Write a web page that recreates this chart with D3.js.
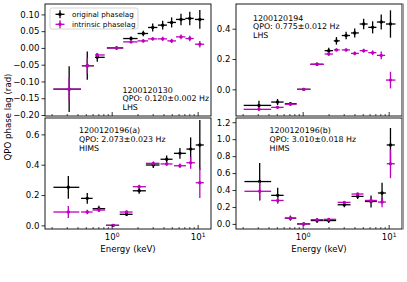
<!DOCTYPE html>
<html>
<head>
<meta charset="utf-8">
<script src="https://cdn.jsdelivr.net/npm/d3@7"></script>
<style>
  body { margin: 0; background: #fff; }
  svg { font-family: "DejaVu Sans", sans-serif; }
</style>
</head>
<body>
<svg id="chart" width="407" height="282"></svg>
<script>
// ---- data: 1200120130 (LHS) ----
var tlEnergy = [0.32, 0.52, 0.68, 1.14, 1.68, 2.33, 3.0, 3.92, 4.98, 6.4, 8.1, 10.6];
var tlELo    = [0.21, 0.45, 0.64, 0.88, 1.36, 2.0, 2.65, 3.45, 4.45, 5.6, 7.2, 9.3];
var tlEHi    = [0.44, 0.62, 0.83, 1.36, 2.0, 2.65, 3.4, 4.4, 5.6, 7.2, 9.0, 11.9];
var tlOrig    = [-0.123, -0.053, -0.028, 0, 0.028, 0.043, 0.061, 0.068, 0.076, 0.085, 0.088, 0.085];
var tlOrigErr = [0.068, 0.042, 0.013, 0, 0.006, 0.008, 0.012, 0.013, 0.015, 0.017, 0.02, 0.028];
var tlIntr    = [-0.123, -0.053, -0.021, 0, 0.018, 0.021, 0.027, 0.027, 0.021, 0.033, 0.028, 0.011];
var tlIntrErr = [0.035, 0.023, 0.006, 0.002, 0.004, 0.005, 0.005, 0.006, 0.006, 0.007, 0.008, 0.01];

// ---- data: 1200120194 (LHS) ----
var trEnergy = [0.31, 0.51, 0.72, 1.03, 1.47, 2.01, 2.47, 3.2, 4.03, 5.12, 6.51, 8.2, 10.5];
var trELo    = [0.206, 0.43, 0.62, 0.86, 1.23, 1.8, 2.3, 2.85, 3.65, 4.6, 5.8, 7.3, 9.3];
var trEHi    = [0.43, 0.6, 0.85, 1.23, 1.75, 2.25, 2.7, 3.55, 4.5, 5.7, 7.2, 9.1, 12.0];
var trOrig    = [-0.106, -0.084, -0.095, 0, 0.165, 0.255, 0.32, 0.355, 0.372, 0.431, 0.409, 0.444, 0.431];
var trOrigErr = [0.03, 0.02, 0.01, 0, 0.008, 0.02, 0.025, 0.025, 0.03, 0.035, 0.04, 0.05, 0.09];
var trIntr    = [-0.132, -0.119, -0.098, 0, 0.165, 0.233, 0.26, 0.26, 0.237, 0.255, 0.242, 0.224, 0.061];
var trIntrErr = [0.01, 0.01, 0.008, 0.003, 0.008, 0.012, 0.01, 0.01, 0.012, 0.012, 0.015, 0.025, 0.055];

// ---- data: 1200120196(a) (HIMS) ----
var blEnergy = [0.313, 0.52, 0.71, 1.04, 1.49, 2.09, 3.05, 4.36, 6.22, 8.29, 10.6];
var blELo    = [0.21, 0.44, 0.6, 0.86, 1.24, 1.76, 2.5, 3.7, 5.3, 7.4, 9.5];
var blEHi    = [0.42, 0.6, 0.84, 1.22, 1.75, 2.5, 3.6, 5.1, 7.3, 9.3, 11.8];
var blOrig    = [0.251, 0.178, 0.11, 0, 0.073, 0.228, 0.398, 0.436, 0.475, 0.503, 0.53];
var blOrigErr = [0.075, 0.035, 0.02, 0, 0.012, 0.02, 0.02, 0.025, 0.035, 0.077, 0.165];
var blIntr    = [0.088, 0.088, 0.101, 0, 0.088, 0.255, 0.409, 0.405, 0.393, 0.413, 0.281];
var blIntrErr = [0.04, 0.015, 0.012, 0.005, 0.01, 0.012, 0.012, 0.012, 0.015, 0.04, 0.1];

// ---- data: 1200120196(b) (HIMS) ----
var brEnergy = [0.316, 0.512, 0.72, 1.03, 1.47, 2.01, 3.05, 4.36, 6.24, 8.38, 10.5];
var brELo    = [0.21, 0.43, 0.62, 0.86, 1.24, 1.76, 2.55, 3.7, 5.3, 7.5, 9.5];
var brEHi    = [0.43, 0.6, 0.84, 1.22, 1.75, 2.45, 3.6, 5.1, 7.3, 9.3, 11.8];
var brOrig    = [0.50, 0.337, 0.068, 0, 0.04, 0.04, 0.226, 0.325, 0.265, 0.365, 0.932];
var brOrigErr = [0.22, 0.09, 0.03, 0, 0.03, 0.03, 0.03, 0.03, 0.07, 0.12, 0.2];
var brIntr    = [0.385, 0.277, 0.068, 0, 0.05, 0.054, 0.254, 0.353, 0.277, 0.258, 0.71];
var brIntrErr = [0.11, 0.04, 0.02, 0.01, 0.012, 0.012, 0.015, 0.015, 0.04, 0.06, 0.17];

var tlTicks = [-0.20, -0.15, -0.10, -0.05, 0.00, 0.05, 0.10];
var trTicks = [0.0, 0.2, 0.4];
var blTicks = [0.0, 0.2, 0.4, 0.6];
var brTicks = [0.0, 0.2, 0.4, 0.6, 0.8, 1.0, 1.2];
var seriesNames = ["original phaselag", "intrinsic phaselag"];
var seriesColors = ["#000000", "#bf00bf"];

var svg = d3.select("#chart");
var energyDomain = [0.1676, 14.3];
var minorTicks = [0.2,0.3,0.4,0.5,0.6,0.7,0.8,0.9,2,3,4,5,6,7,8,9];

var panels = [
  {x: 45, y: 4, w: 166, h: 112, e: tlEnergy, lo: tlELo, hi: tlEHi, orig: tlOrig, oerr: tlOrigErr, intr: tlIntr, ierr: tlIntrErr,
   yd: [-0.203, 0.131], ticks: tlTicks, fmt: ".2f", xlab: false,
   text: ["1200120130", "QPO: 0.120\u00b10.002 Hz", "LHS"], tx: 122.5, ty: 92.5, legend: true},
  {x: 236, y: 4, w: 166, h: 112, e: trEnergy, lo: trELo, hi: trEHi, orig: trOrig, oerr: trOrigErr, intr: trIntr, ierr: trIntrErr,
   yd: [-0.176, 0.563], ticks: trTicks, fmt: ".1f", xlab: false,
   text: ["1200120194", "QPO: 0.775\u00b10.012 Hz", "LHS"], tx: 253, ty: 20.5},
  {x: 45, y: 118, w: 166, h: 111, e: blEnergy, lo: blELo, hi: blEHi, orig: blOrig, oerr: blOrigErr, intr: blIntr, ierr: blIntrErr,
   yd: [-0.024, 0.708], ticks: blTicks, fmt: ".1f", xlab: true,
   text: ["1200120196(a)", "QPO: 2.073\u00b10.023 Hz", "HIMS"], tx: 79, ty: 133.3},
  {x: 236, y: 118, w: 166, h: 111, e: brEnergy, lo: brELo, hi: brEHi, orig: brOrig, oerr: brOrigErr, intr: brIntr, ierr: brIntrErr,
   yd: [-0.06, 1.25], ticks: brTicks, fmt: ".1f", xlab: true,
   text: ["1200120196(b)", "QPO: 3.010\u00b10.018 Hz", "HIMS"], tx: 269.5, ty: 133.3}
];

panels.forEach(function(p, pi) {
  var x = d3.scaleLog().domain(energyDomain).range([0, p.w]);
  var y = d3.scaleLinear().domain(p.yd).range([p.h, 0]);
  var g = svg.append("g").attr("transform", "translate(" + p.x + "," + p.y + ")");

  g.append("clipPath").attr("id", "clip" + pi)
    .append("rect").attr("width", p.w).attr("height", p.h);

  var plot = g.append("g").attr("clip-path", "url(#clip" + pi + ")");
  [[p.orig, p.oerr], [p.intr, p.ierr]].forEach(function(s, si) {
    var col = seriesColors[si];
    var sg = plot.append("g");
    p.e.forEach(function(en, i) {
      sg.append("line")
        .attr("x1", x(p.lo[i])).attr("x2", x(p.hi[i]))
        .attr("y1", y(s[0][i])).attr("y2", y(s[0][i]))
        .attr("stroke", col).attr("stroke-width", 1.3);
      sg.append("line")
        .attr("x1", x(en)).attr("x2", x(en))
        .attr("y1", y(s[0][i] - s[1][i])).attr("y2", y(s[0][i] + s[1][i]))
        .attr("stroke", col).attr("stroke-width", 1.3);
      sg.append("circle").attr("cx", x(en)).attr("cy", y(s[0][i]))
        .attr("r", 1.7).attr("fill", col);
    });
  });

  // y axis, ticks out
  var ya = g.append("g").call(d3.axisLeft(y).tickValues(p.ticks)
    .tickFormat(function(d) { return d3.format(p.fmt)(d).replace("-", "\u2212"); })
    .tickSize(3.5).tickPadding(2).tickSizeOuter(0));
  ya.select(".domain").remove();
  ya.selectAll("text").attr("font-size", 8.6).attr("fill", "#000").attr("font-family", "DejaVu Sans");
  ya.selectAll("line").attr("stroke-width", 0.8);

  // x axis, ticks in
  var xm = g.append("g").attr("transform", "translate(0," + p.h + ")")
    .call(d3.axisBottom(x).tickValues(minorTicks).tickSize(-2).tickFormat(""));
  xm.select(".domain").remove();
  xm.selectAll("line").attr("stroke-width", 0.7);
  var xa = g.append("g").attr("transform", "translate(0," + p.h + ")")
    .call(d3.axisBottom(x).tickValues([1, 10]).tickSize(-4).tickPadding(4).tickFormat(""));
  xa.select(".domain").remove();
  xa.selectAll("line").attr("stroke-width", 0.8);
  if (p.xlab) {
    xa.selectAll(".tick text").each(function(d) {
      var t = d3.select(this).attr("font-size", 8.6).attr("fill", "#000")
        .attr("font-family", "DejaVu Sans").attr("y", 5).attr("dy", "0.71em");
      t.append("tspan").text("10");
      t.append("tspan").attr("font-size", 6).attr("dy", -3.5).text(d === 1 ? "0" : "1");
    });
    g.append("text").attr("x", p.w / 2).attr("y", p.h + 23)
      .attr("text-anchor", "middle").attr("font-size", 8.6).text("Energy (keV)");
  }

  // frame
  g.append("rect").attr("width", p.w).attr("height", p.h)
    .attr("fill", "none").attr("stroke", "#000").attr("stroke-width", 0.9);

  // annotation
  p.text.forEach(function(t, i) {
    g.append("text").attr("x", p.tx - p.x).attr("y", p.ty - p.y + i * 8.7)
      .attr("font-size", 7.9).text(t);
  });

  if (p.legend) {
    var lg = g.append("g").attr("transform", "translate(5,4)");
    lg.append("rect").attr("width", 88).attr("height", 21).attr("rx", 2)
      .attr("fill", "#fff").attr("fill-opacity", 0.8).attr("stroke", "#ccc").attr("stroke-width", 0.8);
    seriesNames.forEach(function(n, i) {
      var cy = 6.3 + i * 10;
      lg.append("line").attr("x1", 5.5).attr("x2", 14.5).attr("y1", cy).attr("y2", cy)
        .attr("stroke", seriesColors[i]).attr("stroke-width", 1.3);
      lg.append("line").attr("x1", 10).attr("x2", 10).attr("y1", cy - 4).attr("y2", cy + 4)
        .attr("stroke", seriesColors[i]).attr("stroke-width", 1.3);
      lg.append("circle").attr("cx", 10).attr("cy", cy).attr("r", 1.7).attr("fill", seriesColors[i]);
      lg.append("text").attr("x", 22).attr("y", cy + 2.5).attr("font-size", 7.2).text(n);
    });
  }
});

// grey right edge of the right-hand panels, as in the reference
svg.append("line").attr("x1", 403).attr("x2", 403).attr("y1", 3.5).attr("y2", 229.5)
  .attr("stroke", "#999").attr("stroke-width", 2);

svg.append("text")
  .attr("transform", "translate(10.5,117) rotate(-90)")
  .attr("text-anchor", "middle").attr("font-size", 8.6).text("QPO phase lag (rad)");
</script>
</body>
</html>
